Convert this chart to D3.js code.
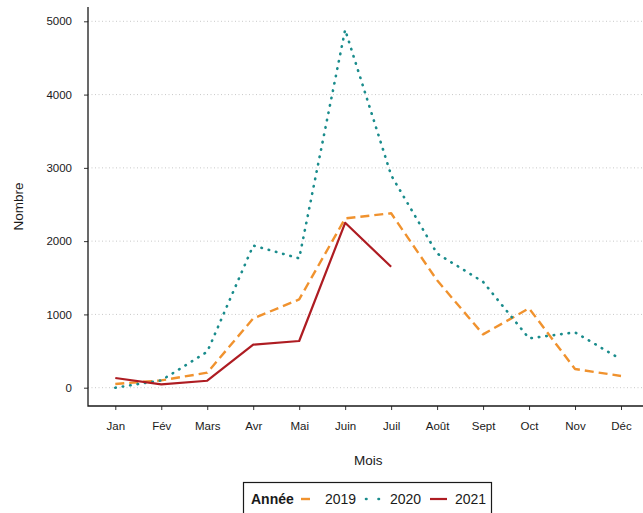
<!DOCTYPE html>
<html lang="fr">
<head>
<meta charset="UTF-8">
<title>Nombre par mois</title>
<script src="https://cdnjs.cloudflare.com/ajax/libs/d3/7.8.5/d3.min.js"></script>
<style>
    body, html { margin: 0; padding: 0; background: #fff; overflow: hidden; }
    #chart { width: 643px; height: 513px; }
    text { font-family: "Liberation Sans", Arial, sans-serif; fill: #1a1a1a; }
</style>
</head>
<body>
<div id="chart"></div>
<script>
    const months = ["Jan", "Fév", "Mars", "Avr", "Mai", "Juin", "Juil", "Août", "Sept", "Oct", "Nov", "Déc"];
    const yTicks = [0, 1000, 2000, 3000, 4000, 5000];
    const values2019 = [50, 100, 205, 945, 1205, 2310, 2380, 1465, 728, 1083, 255, 160];
    const values2020 = [0, 100, 490, 1940, 1765, 4885, 2900, 1830, 1445, 673, 755, 387];
    const values2021 = [132, 46, 95, 587, 637, 2250, 1650];
    const years = ["2019", "2020", "2021"];

    const width = 643, height = 513;
    const svg = d3.select("#chart").append("svg")
        .attr("width", width)
        .attr("height", height);

    const x = d3.scalePoint().domain(months).range([115.3, 621]);
    const y = d3.scaleLinear().domain([0, 5000]).range([387.7, 21.3]);
    const plotLeft = 88, plotRight = 649, plotTop = y(5195), plotBottom = y(-250);

    const styles = {
        "2019": { color: "#F0922E", dash: "9,5", cap: "butt", width: 2.4 },
        "2020": { color: "#1A8C8C", dash: "0.5,7", cap: "round", width: 2.6 },
        "2021": { color: "#AE1C22", dash: null, cap: "butt", width: 2.2 }
    };

    // grille
    svg.append("g").selectAll("line")
        .data(yTicks)
        .enter().append("line")
        .attr("x1", plotLeft).attr("x2", plotRight)
        .attr("y1", d => y(d)).attr("y2", d => y(d))
        .attr("stroke", "#c8c8c8")
        .attr("stroke-width", 1)
        .attr("stroke-dasharray", "1,2.5");

    // axe y
    const yAxis = svg.append("g")
        .attr("transform", `translate(${plotLeft},0)`)
        .call(d3.axisLeft(y).tickValues(yTicks).tickSize(4).tickPadding(12).tickFormat(d3.format("d")));
    yAxis.select(".domain").remove();
    yAxis.selectAll(".tick line").attr("stroke", "#333");
    yAxis.selectAll("text").style("font-size", "11.5px").attr("fill", "#1a1a1a");

    // axe x
    const xAxis = svg.append("g")
        .attr("transform", `translate(0,${plotBottom})`)
        .call(d3.axisBottom(x).tickSize(4).tickPadding(12));
    xAxis.select(".domain").remove();
    xAxis.selectAll(".tick line").attr("stroke", "#333");
    xAxis.selectAll("text").style("font-size", "11.5px").attr("fill", "#1a1a1a");

    // cadre en L
    svg.append("path")
        .attr("d", `M${plotLeft},${plotTop}V${plotBottom}H${plotRight}`)
        .attr("fill", "none")
        .attr("stroke", "#1a1a1a")
        .attr("stroke-width", 1.3);

    // titres
    svg.append("text")
        .attr("x", (x("Jan") + x("Déc")) / 2)
        .attr("y", 465)
        .attr("text-anchor", "middle")
        .style("font-size", "13.5px")
        .text("Mois");
    svg.append("text")
        .attr("transform", `translate(23,${(plotTop + plotBottom) / 2}) rotate(-90)`)
        .attr("text-anchor", "middle")
        .style("font-size", "13.5px")
        .text("Nombre");

    // courbes
    const line = d3.line()
        .x((d, i) => x(months[i]))
        .y(d => y(d));
    const series = [values2019, values2020, values2021];
    years.forEach((yr, k) => {
        const s = styles[yr];
        svg.append("path")
            .datum(series[k])
            .attr("d", line)
            .attr("fill", "none")
            .attr("stroke", s.color)
            .attr("stroke-width", s.width)
            .attr("stroke-linecap", s.cap)
            .attr("stroke-linejoin", "round")
            .attr("stroke-dasharray", s.dash);
    });

    // légende
    const leg = svg.append("g");
    leg.append("rect")
        .attr("x", 243.5).attr("y", 482.5)
        .attr("width", 248).attr("height", 40)
        .attr("fill", "#fff")
        .attr("stroke", "#1a1a1a")
        .attr("stroke-width", 1.2);
    leg.append("text")
        .attr("x", 251).attr("y", 504)
        .style("font-size", "14px")
        .style("font-weight", "bold")
        .text("Année");
    const keyX = [[301, 310], [366, 379], [430, 447]];
    const keyDash = [null, "0.5,12", null];
    const labX = [325, 390, 455];
    years.forEach((yr, k) => {
        const s = styles[yr];
        leg.append("line")
            .attr("x1", keyX[k][0]).attr("x2", keyX[k][1])
            .attr("y1", 499).attr("y2", 499)
            .attr("stroke", s.color)
            .attr("stroke-width", s.width)
            .attr("stroke-linecap", s.cap)
            .attr("stroke-dasharray", keyDash[k]);
        leg.append("text")
            .attr("x", labX[k]).attr("y", 504)
            .style("font-size", "14px")
            .text(yr);
    });
</script>
</body>
</html>
